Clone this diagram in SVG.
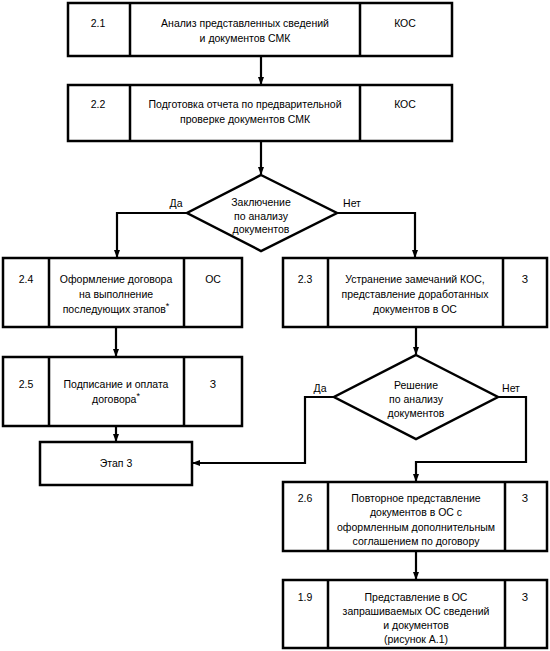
<svg xmlns="http://www.w3.org/2000/svg" width="550" height="651" viewBox="0 0 550 651">
<defs>
<marker id="ah" markerWidth="8" markerHeight="8" refX="7" refY="4" orient="auto" markerUnits="userSpaceOnUse">
<path d="M0,1 L8,4 L0,7 Z" fill="#000"/>
</marker>
<style>
.b{fill:#fff;stroke:#000;stroke-width:2.5}
.d{fill:none;stroke:#000;stroke-width:2.5}
.c{fill:none;stroke:#000;stroke-width:2.2}
text{font-family:"Liberation Sans",Arial,sans-serif;font-size:10.5px;fill:#000;text-anchor:middle}
.s{font-size:9px}
</style>
</defs>
<rect width="550" height="651" fill="#fff"/>
<g id="connectors">
<path class="c" d="M261,56 V84" marker-end="url(#ah)"/>
<path class="c" d="M261,141 V174" marker-end="url(#ah)"/>
<path class="c" d="M187,213 H117 V257" marker-end="url(#ah)"/>
<path class="c" d="M337,213 H415 V257" marker-end="url(#ah)"/>
<path class="c" d="M116,327 V356" marker-end="url(#ah)"/>
<path class="c" d="M116,426 V441" marker-end="url(#ah)"/>
<path class="c" d="M416,327 V354" marker-end="url(#ah)"/>
<path class="c" d="M334,397 H305 V463 H193" marker-end="url(#ah)"/>
<path class="c" d="M498,397 H526 V462 H416 V481" marker-end="url(#ah)"/>
<path class="c" d="M416,551 V579" marker-end="url(#ah)"/>
<text x="176" y="207">Да</text>
<text x="352" y="207">Нет</text>
<text x="320" y="392">Да</text>
<text x="511" y="392">Нет</text>
</g>
<g id="n21">
<rect class="b" x="68" y="3" width="384" height="53"/>
<path class="d" d="M130,3 V56 M360,3 V56"/>
<text x="98" y="27">2.1</text>
<text x="245" y="27">Анализ представленных сведений</text>
<text x="245" y="42">и документов СМК</text>
<text x="405" y="27">КОС</text>
</g>
<g id="n22">
<rect class="b" x="68" y="85" width="384" height="56"/>
<path class="d" d="M130,85 V141 M360,85 V141"/>
<text x="98" y="108">2.2</text>
<text x="245" y="108">Подготовка отчета по предварительной</text>
<text x="245" y="123">проверке документов СМК</text>
<text x="405" y="108">КОС</text>
</g>
<g id="dec1">
<path class="d" d="M261,175 L337,213 L261,251 L187,213 Z"/>
<text x="261" y="206">Заключение</text>
<text x="261" y="220">по анализу</text>
<text x="261" y="233">документов</text>
</g>
<g id="n24">
<rect class="b" x="3" y="258" width="239" height="69"/>
<path class="d" d="M49,258 V327 M184,258 V327"/>
<text x="26" y="283">2.4</text>
<text x="116" y="283">Оформление договора</text>
<text x="116" y="298">на выполнение</text>
<text x="116" y="313">последующих этапов<tspan class="s" dy="-4">*</tspan></text>
<text x="213" y="283">ОС</text>
</g>
<g id="n23">
<rect class="b" x="283" y="258" width="264" height="69"/>
<path class="d" d="M328,258 V327 M503,258 V327"/>
<text x="305" y="283">2.3</text>
<text x="415" y="283">Устранение замечаний КОС,</text>
<text x="415" y="298">представление доработанных</text>
<text x="415" y="313">документов в ОС</text>
<text x="525" y="283">З</text>
</g>
<g id="n25">
<rect class="b" x="3" y="357" width="239" height="69"/>
<path class="d" d="M49,357 V426 M184,357 V426"/>
<text x="26" y="388">2.5</text>
<text x="116" y="388">Подписание и оплата</text>
<text x="116" y="403">договора<tspan class="s" dy="-4">*</tspan></text>
<text x="213" y="388">З</text>
</g>
<g id="etap3">
<rect class="b" x="40" y="442" width="152" height="43"/>
<text x="116" y="467">Этап 3</text>
</g>
<g id="dec2">
<path class="d" d="M416,355 L498,397 L416,439 L334,397 Z"/>
<text x="416" y="389">Решение</text>
<text x="416" y="403">по анализу</text>
<text x="416" y="417">документов</text>
</g>
<g id="n26">
<rect class="b" x="283" y="482" width="264" height="69"/>
<path class="d" d="M328,482 V551 M505,482 V551"/>
<text x="305" y="502">2.6</text>
<text x="416" y="502">Повторное представление</text>
<text x="416" y="516">документов в ОС с</text>
<text x="416" y="531">оформленным дополнительным</text>
<text x="416" y="545">соглашением по договору</text>
<text x="525" y="502">З</text>
</g>
<g id="n19">
<rect class="b" x="283" y="580" width="264" height="68"/>
<path class="d" d="M328,580 V648 M505,580 V648"/>
<text x="305" y="601">1.9</text>
<text x="416" y="601">Представление в ОС</text>
<text x="416" y="615">запрашиваемых ОС сведений</text>
<text x="416" y="629">и документов</text>
<text x="416" y="643">(рисунок А.1)</text>
<text x="525" y="601">З</text>
</g>
</svg>
